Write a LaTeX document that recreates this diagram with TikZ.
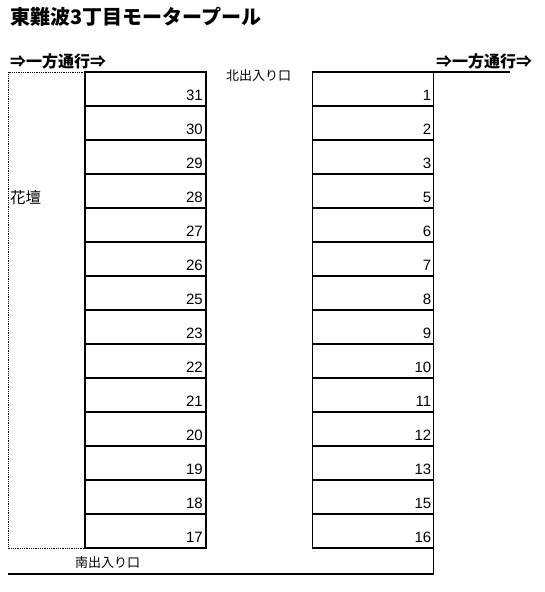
\documentclass[tikz,border=0pt]{standalone}
\usepackage{fontspec}
\setmainfont{Liberation Sans}
\newfontfamily\jpfont{Noto Sans CJK JP}
\usetikzlibrary{positioning}

\tikzstyle{stall} = [draw=black, line width=1.5pt, rectangle, minimum
  width=121pt, minimum height=34pt, inner sep=0pt, outer sep=0pt]
\tikzstyle{stallno} = [anchor=base east, inner sep=0pt,
  font=\fontsize{15}{16}\selectfont]
\tikzstyle{sign} = [anchor=west, inner sep=0pt,
  font=\jpfont\bfseries\fontsize{16}{17}\selectfont]
\tikzstyle{gate} = [anchor=west, inner sep=0pt,
  font=\jpfont\fontsize{13}{14}\selectfont]
\tikzstyle{wall} = [draw=black, line width=1.5pt]

\begin{document}
\begin{tikzpicture}[x=1pt, y=-1pt]
        \useasboundingbox (0,0) rectangle (544,592);

        \node [anchor=west, inner sep=0pt,
          font=\jpfont\bfseries\fontsize{20}{22}\selectfont]
          (title) at (10,17) {東難波3丁目モータープール};

        % stalls
        \foreach \i/\lno/\rno in {1/31/1, 2/30/2, 3/29/3, 4/28/5, 5/27/6,
            6/26/7, 7/25/8, 8/23/9, 9/22/10, 10/21/11, 11/20/12,
            12/19/13, 13/18/15, 14/17/16} {
          \node [stall] (left\i)  at (145.5, {55+34*\i}) {};
          \node [stall] (right\i) at (373,   {55+34*\i}) {};
          \node [stallno] (lno\i) at ([xshift=-3pt, yshift=6pt]left\i.south east) {\lno};
          \node [stallno] (rno\i) at ([xshift=-2pt, yshift=6pt]right\i.south east) {\rno};
        }

        \node [sign] (signleft)  at (10,61)  {⇒一方通行⇒};
        \node [sign] (signright) at (436,61) {⇒一方通行⇒};
        \node [gate] (north)     at (226,76) {北出入り口};
        \node [gate] (south)     at (75,563) {南出入り口};
        \node [gate, font=\jpfont\fontsize{15.5}{16}\selectfont]
          (flowerbed) at (10,198) {花壇};

        \coordinate (roadend) at (510,72);
        \coordinate (roadsw)  at (8,574);
        \coordinate (bedsw)   at (8,548);

        \draw [densely dotted, line width=0.8pt]
          (left1.north west) -- (left1.north west -| bedsw) -- (bedsw)
          -- (left14.south west);
        \draw [wall] (right1.north east) -- (roadend);
        \draw [wall] (right14.south east) -- (right14.south east |- roadsw)
          -- (roadsw);
      \end{tikzpicture}
\end{document}
